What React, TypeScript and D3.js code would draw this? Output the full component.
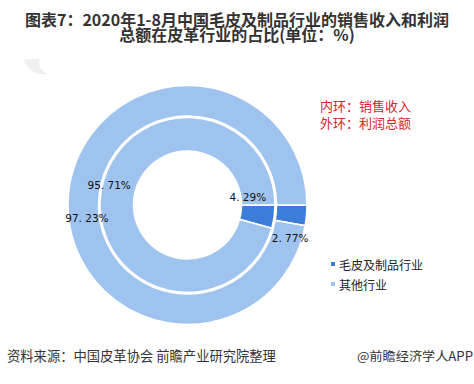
import React from 'react';
import * as d3 from 'd3';

const categories = ['毛皮及制品行业', '其他行业'];
const innerValues = [4.29, 95.71]; // 内环：销售收入
const outerValues = [2.77, 97.23]; // 外环：利润总额
const colors = ['#3B7DD9', '#9FC3EF'];

const titleLines = ['图表7：2020年1-8月中国毛皮及制品行业的销售收入和利润', '总额在皮革行业的占比(单位：%)'];
const noteLines = ['内环：销售收入', '外环：利润总额'];
const sourceText = '资料来源：中国皮革协会 前瞻产业研究院整理';
const brandText = '@前瞻经济学人APP';

const W = 474;
const H = 384;
const cx = 187.5;
const cy = 205;

export default function App() {
  const pie = d3
    .pie<number>()
    .sort(null)
    .startAngle(Math.PI / 2)
    .endAngle(Math.PI / 2 + 2 * Math.PI);

  const innerArcs = pie(innerValues);
  const outerArcs = pie(outerValues);

  const innerArc = d3.arc<d3.PieArcDatum<number>>().innerRadius(54).outerRadius(87.5);
  const outerArc = d3.arc<d3.PieArcDatum<number>>().innerRadius(89).outerRadius(119.5);

  const fmt = (v: number) => v.toFixed(2).replace('.', '. ') + '%';

  // label anchors: centroid on a label arc, plus small offsets (Excel-style placement)
  const innerLabelArc = d3.arc<d3.PieArcDatum<number>>().innerRadius(72).outerRadius(72);
  const outerLabelArc = d3.arc<d3.PieArcDatum<number>>().innerRadius(104).outerRadius(104);
  const innerOffsets: [number, number][] = [[-11, -18], [-7, -10]];
  const outerOffsets: [number, number][] = [[-1, 24], [3, 22]];

  return (
    <svg width={W} height={H} style={{ display: 'block', position: 'absolute', left: 0, top: 0 }}>
      <rect width={W} height={H} fill="#ffffff" />
      {/* faint watermark shape */}
      <path d="M24,60 Q30,76 48,74 Q36,68 40,58 Z" fill="#f0f0f0" />
      <text
        textAnchor="middle"
        fontFamily="'Noto Sans CJK SC', sans-serif"
        fontWeight="bold"
        fontSize={16}
        fill="#333333"
      >
        {titleLines.map((t, i) => (
          <tspan key={i} x={237} y={26 + i * 15}>
            {t}
          </tspan>
        ))}
      </text>
      <g transform={`translate(${cx},${cy})`}>
        {outerArcs.map((a, i) => (
          <path key={'o' + i} d={outerArc(a) || ''} fill={colors[i]} stroke="#ffffff" strokeWidth={1.6} />
        ))}
        {innerArcs.map((a, i) => (
          <path key={'i' + i} d={innerArc(a) || ''} fill={colors[i]} stroke="#ffffff" strokeWidth={1.6} />
        ))}
        {innerArcs.map((a, i) => {
          const [x, y] = innerLabelArc.centroid(a);
          return (
            <text
              key={'il' + i}
              x={x + innerOffsets[i][0]}
              y={y + innerOffsets[i][1]}
              textAnchor="middle"
              dominantBaseline="central"
              fontFamily="'DejaVu Sans', sans-serif"
              fontSize={10.5}
              fill="#111111"
            >
              {fmt(a.data)}
            </text>
          );
        })}
        {outerArcs.map((a, i) => {
          const [x, y] = outerLabelArc.centroid(a);
          return (
            <text
              key={'ol' + i}
              x={x + outerOffsets[i][0]}
              y={y + outerOffsets[i][1]}
              textAnchor="middle"
              dominantBaseline="central"
              fontFamily="'DejaVu Sans', sans-serif"
              fontSize={10.5}
              fill="#111111"
            >
              {fmt(a.data)}
            </text>
          );
        })}
      </g>
      <text fontFamily="'Noto Sans CJK SC', sans-serif" fontSize={13} fill="#D9232B">
        {noteLines.map((t, i) => (
          <tspan key={'n' + i} x={320} y={111 + i * 16.5}>
            {t}
          </tspan>
        ))}
      </text>
      {categories.map((c, i) => (
        <g key={'lg' + i} transform={`translate(331,${264 + i * 20})`}>
          <rect x={0} y={-2} width={4} height={4} fill={colors[i]} />
          <text
            x={8}
            y={0}
            dominantBaseline="central"
            fontFamily="'Noto Sans CJK SC', sans-serif"
            fontSize={12}
            fill="#222222"
          >
            {c}
          </text>
        </g>
      ))}
      <text
        x={7}
        y={355}
        dominantBaseline="central"
        fontFamily="'Noto Sans CJK SC', sans-serif"
        fontSize={13.3}
        fill="#333333"
      >
        {sourceText}
      </text>
      <text
        x={357}
        y={355}
        dominantBaseline="central"
        fontFamily="'Noto Sans CJK SC', sans-serif"
        fontSize={12.5}
        textLength={116}
        lengthAdjust="spacingAndGlyphs"
        fill="#333333"
      >
        {brandText}
      </text>
    </svg>
  );
}
